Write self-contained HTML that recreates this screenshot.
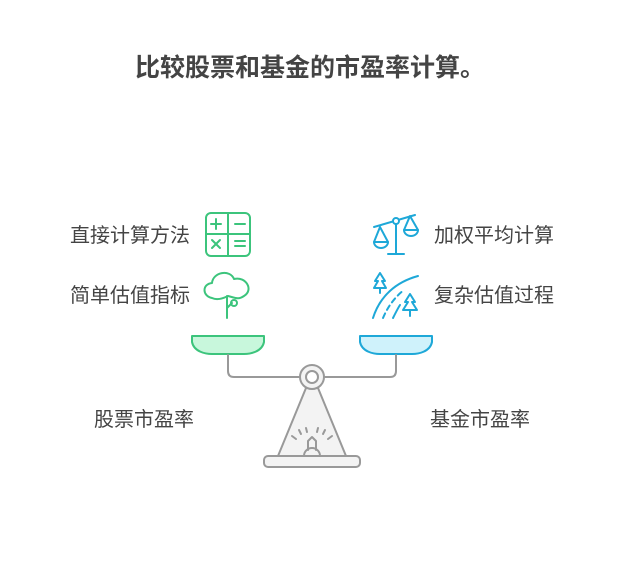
<!DOCTYPE html>
<html><head><meta charset="utf-8"><style>
body{margin:0;width:624px;height:576px;background:#fff;position:relative;overflow:hidden;font-family:"Liberation Sans","Noto Sans CJK SC",sans-serif;}
.t{position:absolute;font-size:20px;color:#444;line-height:22px;white-space:nowrap}
</style></head><body>
<div class="t" style="left:-2px;width:624px;text-align:center;top:54px;font-size:25px;font-weight:bold;color:#444;line-height:28px">比较股票和基金的市盈率计算。</div>
<div class="t" style="left:70px;top:225px">直接计算方法</div>
<div class="t" style="left:70px;top:285px">简单估值指标</div>
<div class="t" style="left:434px;top:225px">加权平均计算</div>
<div class="t" style="left:434px;top:285px">复杂估值过程</div>
<div class="t" style="left:94px;top:409px">股票市盈率</div>
<div class="t" style="left:430px;top:409px">基金市盈率</div>
<svg width="624" height="576" style="position:absolute;left:0;top:0" fill="none" stroke-linecap="round" stroke-linejoin="round">
<g stroke="#3cc47c" stroke-width="2">
<rect x="206" y="213" width="44" height="43" rx="5"/>
<line x1="228" y1="213" x2="228" y2="256"/><line x1="206" y1="234" x2="250" y2="234"/>
<line x1="211" y1="224" x2="221" y2="224"/><line x1="216" y1="219" x2="216" y2="229"/>
<line x1="235" y1="224" x2="245" y2="224"/>
<line x1="212" y1="240" x2="220" y2="248"/><line x1="220" y1="240" x2="212" y2="248"/>
<line x1="235" y1="241" x2="245" y2="241"/><line x1="235" y1="246" x2="245" y2="246"/>
<path d="M212 298 C202 296 202 284 212 283 C213 272 230 269 234 279 C246 276 254 290 244 296 C238 300 236 298 228 296 C222 299 216 300 212 298Z"/>
<line x1="227" y1="296" x2="227" y2="318"/><path d="M227 308 L232 303"/><circle cx="234" cy="303" r="3"/>
<path d="M192 336 H264 V342 C262 352 250 354 244 354 H212 C206 354 194 352 192 342Z" fill="#c8f7dc"/>
</g>
<g stroke="#1ea8d8" stroke-width="2">
<line x1="396" y1="220" x2="396" y2="254"/><line x1="388" y1="254" x2="404" y2="254"/>
<line x1="374" y1="227" x2="415" y2="215"/><circle cx="396" cy="221" r="3" fill="#fff"/>
<path d="M380 227 L374 242 H388Z M410 216 L404 230 H418Z"/>
<path d="M374 242 A7 6 0 0 0 388 242 M404 230 A7 6 0 0 0 418 230"/>
<path d="M380 273 L375 281 H378 L374 288 H386 L382 281 H385Z"/><line x1="380" y1="288" x2="380" y2="293"/>
<path d="M410 294 L405 302 H408 L403 310 H417 L412 302 H415Z"/><line x1="410" y1="310" x2="410" y2="316"/>
<path d="M373 318 C380 296 396 282 418 276" />
<path d="M383 318 C388 306 396 296 404 290" stroke-dasharray="5 4"/>
<path d="M393 318 C396 312 398 308 400 305" />
<path d="M360 336 H432 V342 C430 352 418 354 412 354 H380 C374 354 362 352 360 342Z" fill="#cff2fb"/>
</g>
<g stroke="#999" stroke-width="2">
<path d="M228 355 V371 Q228 377 234 377 H300"/><path d="M396 355 V371 Q396 377 390 377 H324"/>
<path d="M306 388 L278 456 H346 L318 388Z" fill="#f3f3f3"/>
<circle cx="312" cy="377" r="12" fill="#f3f3f3"/><circle cx="312" cy="377" r="6" fill="#fff"/>
<rect x="264" y="456" width="96" height="11" rx="4" fill="#f3f3f3"/>
<path d="M304 456 A8 8 0 0 1 320 456"/><path d="M308 450 V441 L312 437 L316 441 V450"/>
<line x1="292" y1="436" x2="296" y2="439"/><line x1="299" y1="430" x2="301" y2="434"/><line x1="306" y1="428" x2="307" y2="432"/>
<line x1="318" y1="428" x2="317" y2="432"/><line x1="325" y1="430" x2="323" y2="434"/><line x1="332" y1="436" x2="328" y2="439"/>
</g>
</svg>
</body></html>
